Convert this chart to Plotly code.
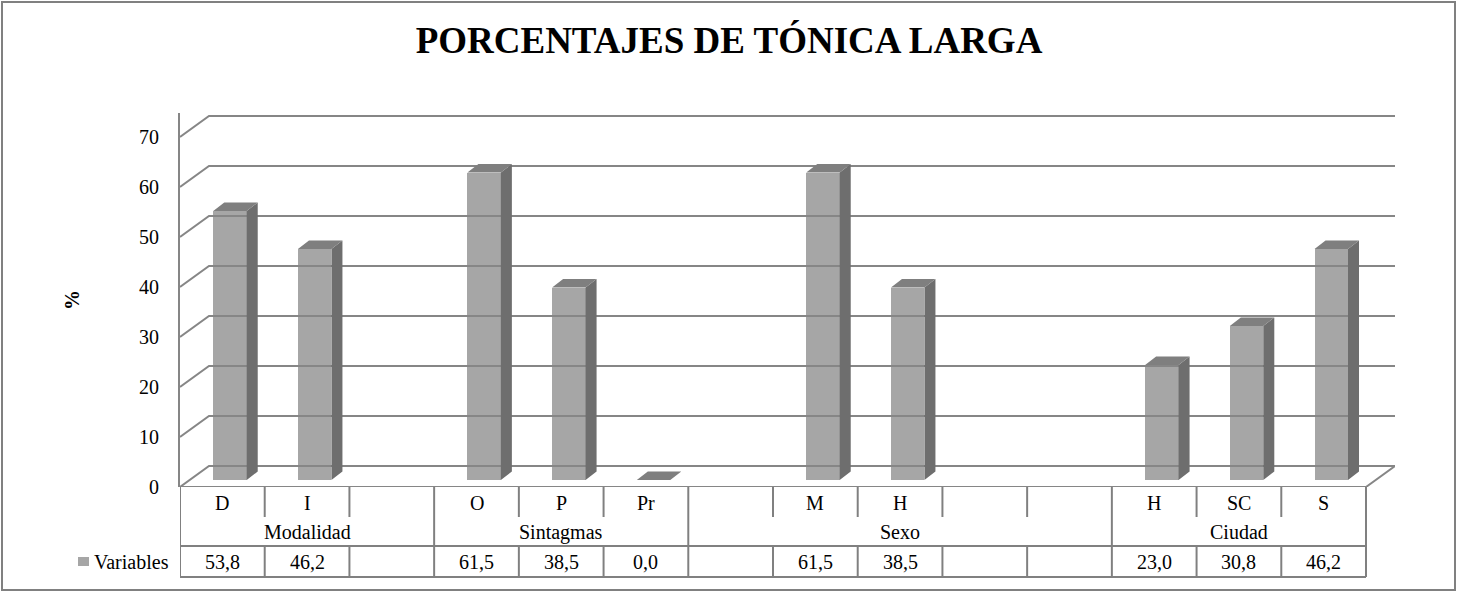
import plotly.graph_objects as go

# data
categories = ["D", "I", "", "O", "P", "Pr", "", "M", "H", "", "", "H", "SC", "S"]
values = [53.8, 46.2, None, 61.5, 38.5, 0.0, None, 61.5, 38.5, None, None, 23.0, 30.8, 46.2]
groups = ["Modalidad", "Sintagmas", "Sexo", "Ciudad"]
group_sizes = [3, 3, 5, 3]
y_ticks = [0, 10, 20, 30, 40, 50, 60, 70]
series_name = "Variables"
title = "PORCENTAJES DE TÓNICA LARGA"

# page / plot geometry (pixels)
W, H = 1457, 592
L, R, T, B = 180, 62, 113, 105
PW, PH = W - L - R, H - T - B
n = len(categories)
unit_x = (1366 - L) / n
X_MAX = -0.5 + PW / unit_x
Y_MAX = 74.8
unit_y = PH / Y_MAX

# 3d look: depth of the back wall, bar placement
DX = 29 / unit_x
DY = 21 / unit_y
BAR_SHIFT = 0.09
BAR_W = 0.395
BAR_BASE = 1.4
SIDE_DX = 0.13
SIDE_DY = 1.7

FONT = "Liberation Serif, Times New Roman, Times, serif"
GRID = "#868686"
LINE = "#808080"


def xp(px):
    return (px - L) / PW


def yp(py):
    return (H - B - py) / PH


fig = go.Figure()

# back wall gridlines + left wall diagonals
gx, gy = [], []
for v in y_ticks:
    gx += [-0.5, -0.5 + DX, X_MAX, None]
    gy += [v, v + DY, v + DY, None]
# floor front edge and right diagonal
gx += [-0.5, n - 0.5, n - 0.5 + DX, None]
gy += [0, 0, DY, None]
fig.add_trace(go.Scatter(x=gx, y=gy, mode="lines", line=dict(color=GRID, width=2),
                         hoverinfo="skip", showlegend=False))

# bars: front faces
idx = [i for i, v in enumerate(values) if v is not None]
bx = [i + BAR_SHIFT for i in idx]
bv = [values[i] for i in idx]
fig.add_trace(go.Bar(x=bx, y=bv, base=BAR_BASE, width=BAR_W,
                     marker=dict(color="#A6A6A6", line=dict(width=0)),
                     name=series_name, showlegend=False))

# side and top faces
sx, sy, tx, ty = [], [], [], []
for x, v in zip(bx, bv):
    x0, x1 = x - BAR_W / 2, x + BAR_W / 2
    b, t = BAR_BASE, BAR_BASE + v
    sx += [x1, x1 + SIDE_DX, x1 + SIDE_DX, x1, x1, None]
    sy += [b, b + SIDE_DY, t + SIDE_DY, t, b, None]
    tx += [x0, x1, x1 + SIDE_DX, x0 + SIDE_DX, x0, None]
    ty += [t, t, t + SIDE_DY, t + SIDE_DY, t, None]
fig.add_trace(go.Scatter(x=sx, y=sy, mode="lines", fill="toself", fillcolor="#6E6E6E",
                         line=dict(width=0, color="#6E6E6E"), hoverinfo="skip", showlegend=False))
fig.add_trace(go.Scatter(x=tx, y=ty, mode="lines", fill="toself", fillcolor="#7F7F7F",
                         line=dict(width=0, color="#7F7F7F"), hoverinfo="skip", showlegend=False))

# data table below the plot
shapes = []
y_top, y_cat, y_grp, y_bot = 487, 517, 546, 577
var_left = -0.5 + (72 - L) / unit_x


def vline(x, p0, p1):
    shapes.append(dict(type="line", xref="x", yref="paper", x0=x, x1=x,
                       y0=yp(p0), y1=yp(p1), line=dict(color=LINE, width=2)))


def hline(xa, xb, p):
    shapes.append(dict(type="line", xref="x", yref="paper", x0=xa, x1=xb,
                       y0=yp(p), y1=yp(p), line=dict(color=LINE, width=2)))


group_edges = [0]
for s in group_sizes:
    group_edges.append(group_edges[-1] + s)

for k in range(n + 1):
    e = k - 0.5
    if k in group_edges:
        vline(e, y_top, y_bot)
    else:
        vline(e, y_top, y_cat)
        vline(e, y_grp, y_bot)
hline(var_left, n - 0.5, y_grp)
hline(var_left, n - 0.5, y_bot)
vline(var_left, y_grp, y_bot)

# legend key in table
shapes.append(dict(type="rect", xref="paper", yref="paper", x0=xp(78), x1=xp(89),
                   y0=yp(566), y1=yp(557), fillcolor="#A6A6A6", line=dict(width=0)))
# outer chart border
shapes.append(dict(type="rect", xref="paper", yref="paper", x0=xp(2), x1=xp(W - 2),
                   y0=yp(H - 2), y1=yp(2), line=dict(color=LINE, width=2)))

ann = []
tf = dict(family=FONT, size=20, color="black")
for i, c in enumerate(categories):
    if c:
        ann.append(dict(x=i, y=yp(503), xref="x", yref="paper", text=c, showarrow=False,
                        font=tf, yanchor="middle"))
    if values[i] is not None:
        ann.append(dict(x=i, y=yp(562), xref="x", yref="paper",
                        text=f"{values[i]:.1f}".replace(".", ","), showarrow=False,
                        font=tf, yanchor="middle"))
for g, a, b in zip(groups, group_edges[:-1], group_edges[1:]):
    ann.append(dict(x=(a + b - 1) / 2, y=yp(532), xref="x", yref="paper", text=g,
                    showarrow=False, font=tf, yanchor="middle"))
ann.append(dict(x=xp(92), y=yp(562), xref="paper", yref="paper", text=series_name,
                showarrow=False, font=tf, xanchor="left", yanchor="middle"))
ann.append(dict(x=xp(72), y=yp(300), xref="paper", yref="paper", text="<b>%</b>",
                showarrow=False, font=tf, textangle=-90, xanchor="center", yanchor="middle"))

fig.update_layout(
    width=W, height=H,
    margin=dict(l=L, r=R, t=T, b=B),
    paper_bgcolor="white", plot_bgcolor="white",
    font=dict(family=FONT, color="black"),
    title=dict(text=f"<b>{title}</b>", x=729 / W, xref="container", xanchor="center",
               y=1 - 40 / H, yref="container", yanchor="middle",
               font=dict(family=FONT, size=37, color="black")),
    xaxis=dict(range=[-0.5, X_MAX], visible=False, fixedrange=True),
    yaxis=dict(range=[0, Y_MAX], tickvals=y_ticks, showline=True, linecolor=GRID,
               linewidth=2, showgrid=False, zeroline=False, ticks="",
               ticklabelstandoff=15, tickfont=tf, fixedrange=True),
    shapes=shapes, annotations=ann, showlegend=False, bargap=0,
)

fig.write_html("out.html", config={"displayModeBar": False},
               post_script="document.body.style.margin='0';")
